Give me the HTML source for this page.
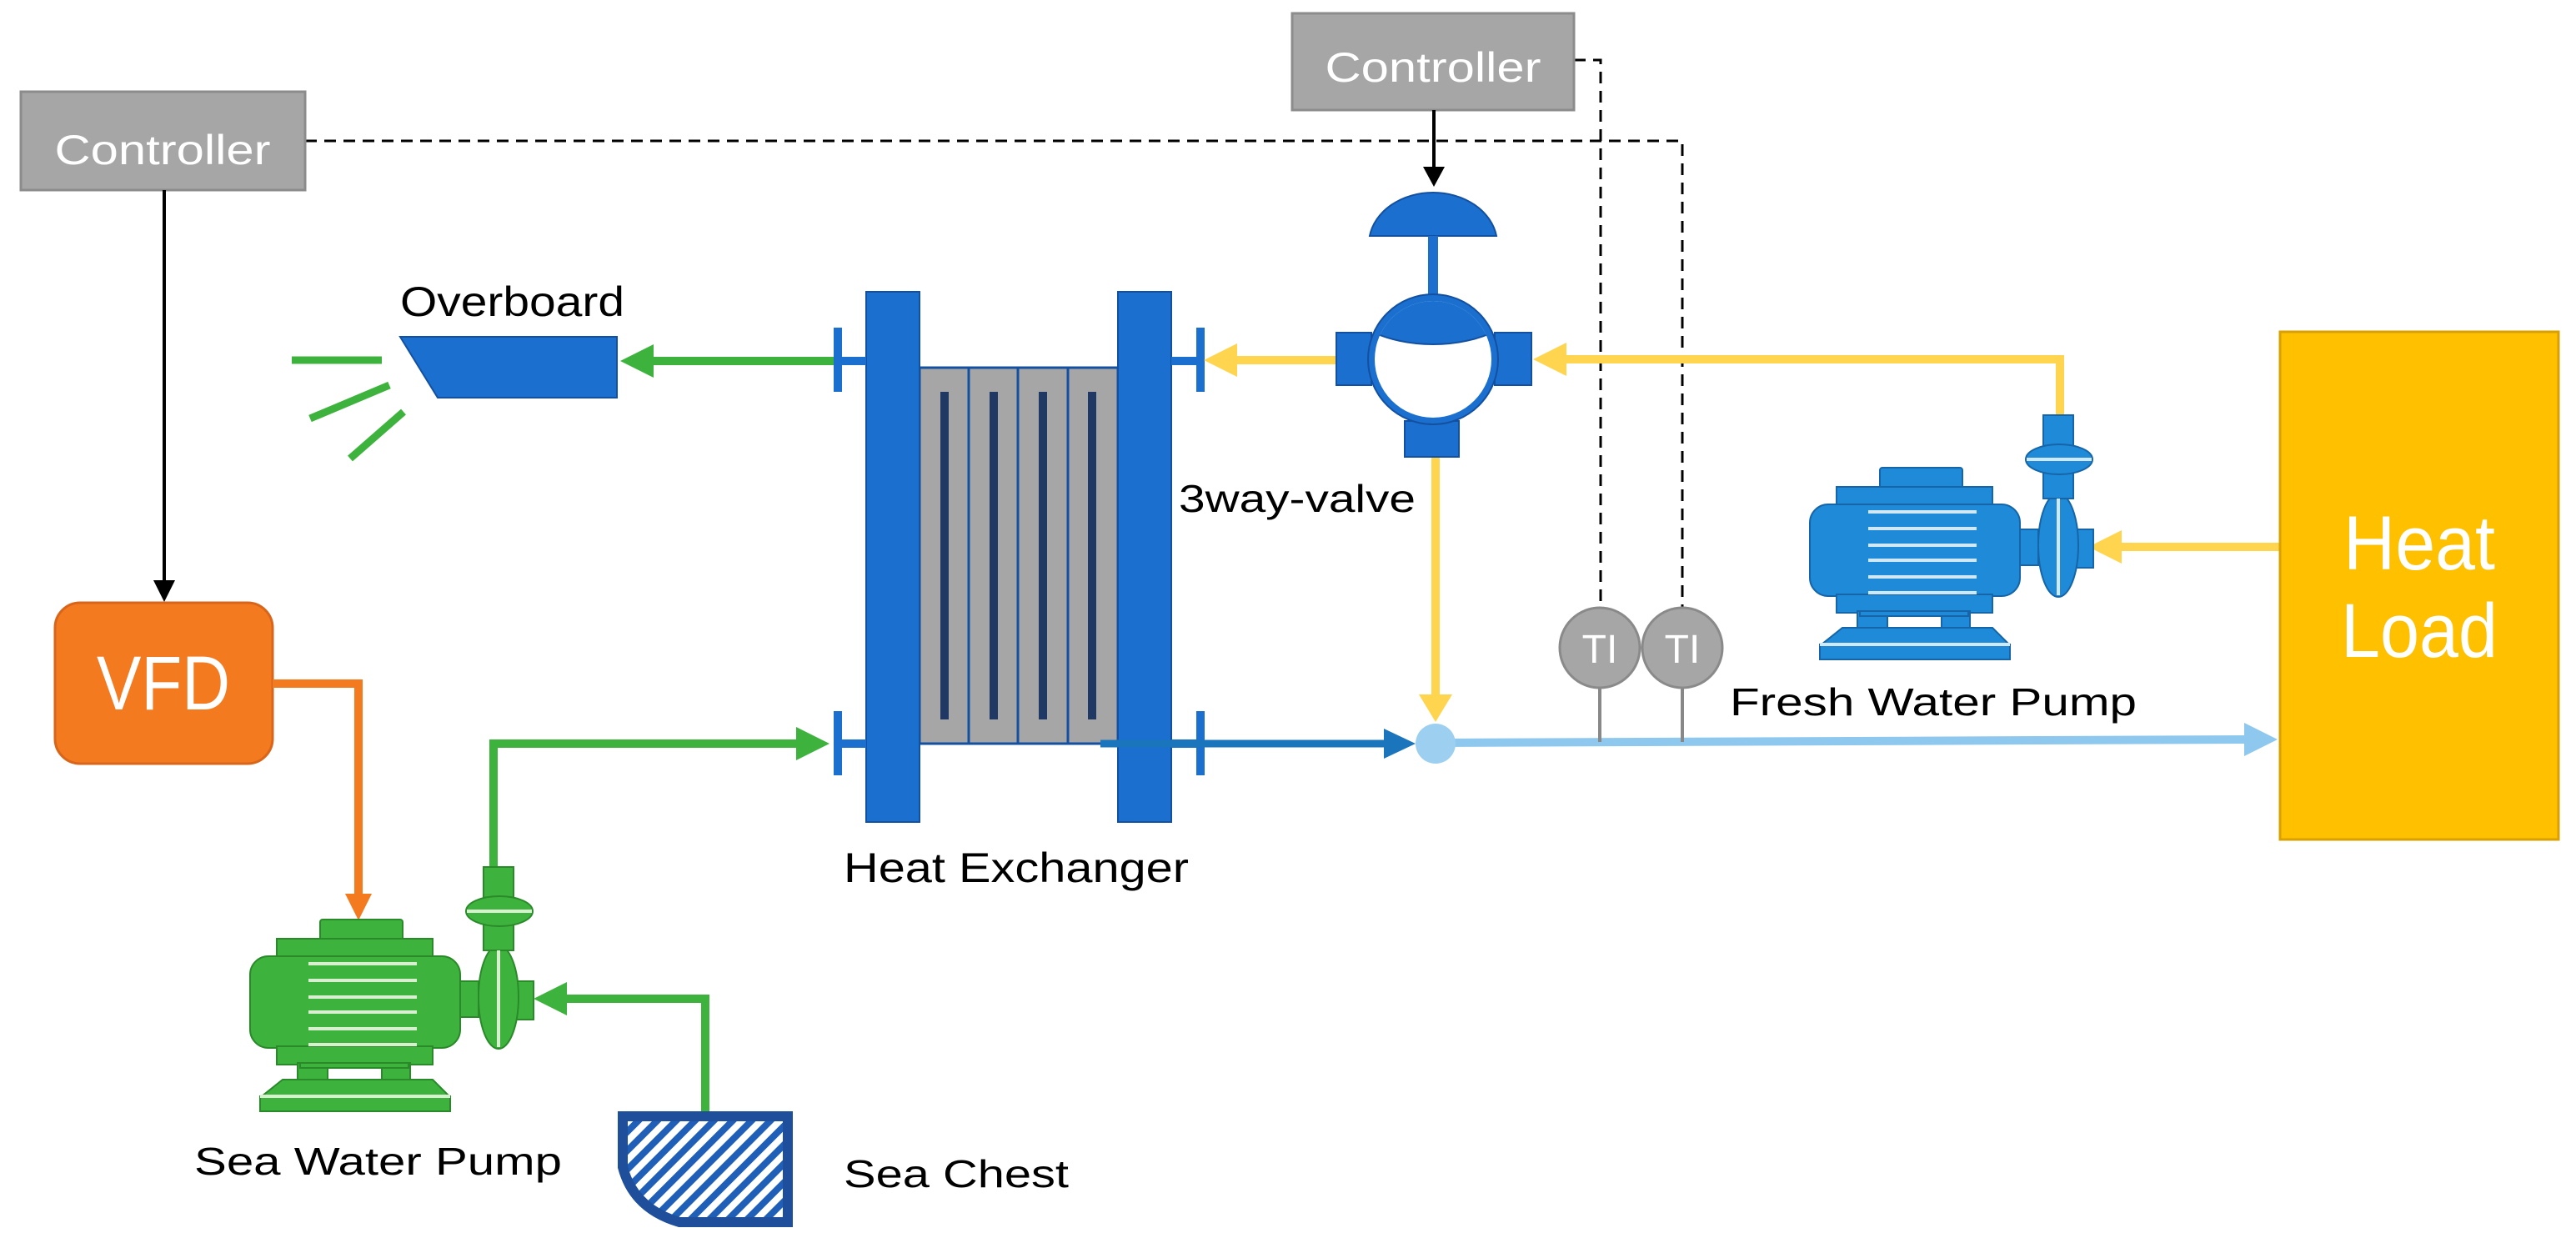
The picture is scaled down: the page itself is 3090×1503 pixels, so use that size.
<!DOCTYPE html>
<html><head><meta charset="utf-8"><style>
html,body{margin:0;padding:0;background:#fff;width:3090px;height:1503px;overflow:hidden}
svg{display:block}
text{font-family:"Liberation Sans",sans-serif}
</style></head><body>
<svg width="3090" height="1503" viewBox="0 0 3090 1503" xmlns="http://www.w3.org/2000/svg">
<defs>
<pattern id="hatch" width="16" height="16" patternUnits="userSpaceOnUse" patternTransform="rotate(45)">
<rect width="16" height="16" fill="#fff"/><rect width="8" height="16" fill="#1f5fb8"/>
</pattern>
<clipPath id="vc"><circle cx="1719" cy="431" r="70"/></clipPath>
<g id="pump">
<rect x="384" y="1103" width="99" height="26" rx="3"/>
<rect x="332" y="1126" width="187" height="24"/>
<rect x="300" y="1147" width="252" height="110" rx="22"/>
<rect x="332" y="1255" width="187" height="22"/>
<rect x="357" y="1275" width="36" height="22"/>
<rect x="458" y="1275" width="34" height="22"/>
<rect x="360" y="1275" width="130" height="6"/>
<polygon points="339,1295 519,1295 539,1315 314,1315"/>
<rect x="312" y="1315" width="228" height="18"/>
<rect x="552" y="1177" width="22" height="43"/>
<rect x="620" y="1177" width="20" height="46"/>
<ellipse cx="598" cy="1196" rx="24" ry="62"/>
<rect x="580" y="1040" width="36" height="100"/>
<ellipse cx="599" cy="1093" rx="40" ry="18"/>
</g>
</defs>

<!-- dashed control lines -->
<g stroke="#000" stroke-width="3" stroke-dasharray="14 9" fill="none">
<path d="M366 169 H2018 V729"/>
<path d="M1888 72 H1920 V729"/>
</g>

<!-- Controllers -->
<rect x="25" y="110" width="341" height="118" fill="#a6a6a6" stroke="#8c8c8c" stroke-width="3"/>
<text x="195" y="197" font-size="50" fill="#fff" text-anchor="middle" textLength="259" lengthAdjust="spacingAndGlyphs">Controller</text>
<rect x="1550" y="16" width="338" height="116" fill="#a6a6a6" stroke="#8c8c8c" stroke-width="3"/>
<text x="1719" y="98" font-size="50" fill="#fff" text-anchor="middle" textLength="259" lengthAdjust="spacingAndGlyphs">Controller</text>

<!-- black arrows -->
<line x1="197" y1="228" x2="197" y2="700" stroke="#000" stroke-width="4"/>
<polygon points="184,696 210,696 197,722" fill="#000"/>
<line x1="1720" y1="132" x2="1720" y2="204" stroke="#000" stroke-width="4"/>
<polygon points="1707,200 1733,200 1720,224" fill="#000"/>

<!-- VFD -->
<rect x="66" y="723" width="261" height="193" rx="30" fill="#f47a20" stroke="#d8651a" stroke-width="3"/>
<text x="196" y="851" font-size="92" fill="#fff" text-anchor="middle" textLength="160" lengthAdjust="spacingAndGlyphs">VFD</text>
<path d="M327 820 H430 V1080" stroke="#f47a20" stroke-width="10" fill="none"/>
<polygon points="414,1072 446,1072 430,1104" fill="#f47a20"/>

<!-- Overboard -->
<text x="480" y="379" font-size="50" fill="#000" textLength="269" lengthAdjust="spacingAndGlyphs">Overboard</text>
<polygon points="480,404 740,404 740,477 525,477" fill="#1a6fcf" stroke="#1450a0" stroke-width="2"/>
<g stroke="#3db33d" stroke-width="9">
<line x1="350" y1="432" x2="458" y2="432"/>
<line x1="372" y1="502" x2="467" y2="462"/>
<line x1="420" y1="550" x2="484" y2="494"/>
</g>
<line x1="770" y1="433" x2="1003" y2="433" stroke="#3db33d" stroke-width="10"/>
<polygon points="744,433 784,413 784,453" fill="#3db33d"/>

<!-- Heat exchanger -->
<rect x="1103" y="441" width="238" height="451" fill="#a6a6a6" stroke="#1450a0" stroke-width="3"/>
<g stroke="#1450a0" stroke-width="3"><line x1="1162" y1="441" x2="1162" y2="892"/><line x1="1221" y1="441" x2="1221" y2="892"/><line x1="1281" y1="441" x2="1281" y2="892"/></g>
<g fill="#1f3864"><rect x="1128" y="470" width="10" height="393"/><rect x="1187" y="470" width="10" height="393"/><rect x="1246" y="470" width="10" height="393"/><rect x="1305" y="470" width="10" height="393"/></g>
<rect x="1039" y="350" width="64" height="636" fill="#1a6fcf" stroke="#1450a0" stroke-width="2"/>
<rect x="1341" y="350" width="64" height="636" fill="#1a6fcf" stroke="#1450a0" stroke-width="2"/>
<g fill="#1a6fcf">
<rect x="1000" y="393" width="10" height="77"/><rect x="1005" y="428" width="34" height="10"/>
<rect x="1000" y="853" width="10" height="77"/><rect x="1005" y="887" width="34" height="10"/>
<rect x="1435" y="393" width="10" height="77"/><rect x="1405" y="428" width="34" height="10"/>
<rect x="1435" y="853" width="10" height="77"/><rect x="1405" y="887" width="34" height="10"/>
</g>
<text x="1012" y="1058" font-size="50" fill="#000" textLength="414" lengthAdjust="spacingAndGlyphs">Heat Exchanger</text>

<!-- green inlet to HX -->
<path d="M592 1040 V892 H970" stroke="#3db33d" stroke-width="10" fill="none"/>
<polygon points="995,892 955,872 955,912" fill="#3db33d"/>

<!-- Sea water pump -->
<use href="#pump" fill="#3db33d" stroke="#2a8a2a" stroke-width="2"/>
<g stroke="#d8f0d0" stroke-width="4"><line x1="370" y1="1156" x2="500" y2="1156"/><line x1="370" y1="1176" x2="500" y2="1176"/><line x1="370" y1="1196" x2="500" y2="1196"/><line x1="370" y1="1214" x2="500" y2="1214"/><line x1="370" y1="1234" x2="500" y2="1234"/><line x1="370" y1="1253" x2="500" y2="1253"/><line x1="598" y1="1140" x2="598" y2="1256"/><line x1="560" y1="1093" x2="638" y2="1093"/><line x1="312" y1="1315" x2="540" y2="1315"/></g>
<path d="M846 1333 V1198 H665" stroke="#3db33d" stroke-width="10" fill="none"/>
<polygon points="640,1198 680,1178 680,1218" fill="#3db33d"/>
<text x="233" y="1409" font-size="46" fill="#000" textLength="441" lengthAdjust="spacingAndGlyphs">Sea Water Pump</text>

<!-- Sea chest -->
<path d="M747 1339 H945 V1466 H815 Q760 1450 747 1400 Z" fill="url(#hatch)" stroke="#1f4e9a" stroke-width="12"/>
<text x="1012" y="1424" font-size="46" fill="#000" textLength="270" lengthAdjust="spacingAndGlyphs">Sea Chest</text>

<!-- yellow lines -->
<line x1="1470" y1="432" x2="1603" y2="432" stroke="#ffd54f" stroke-width="10"/>
<polygon points="1444,432 1484,412 1484,452" fill="#ffd54f"/>
<path d="M2471 503 V431 H1865" stroke="#ffd54f" stroke-width="10" fill="none"/>
<polygon points="1839,431 1879,411 1879,451" fill="#ffd54f"/>
<line x1="1722" y1="548" x2="1722" y2="840" stroke="#ffd54f" stroke-width="10"/>
<polygon points="1702,833 1742,833 1722,866" fill="#ffd54f"/>
<line x1="2530" y1="656" x2="2735" y2="656" stroke="#ffd54f" stroke-width="10"/>
<polygon points="2505,656 2545,636 2545,676" fill="#ffd54f"/>

<!-- 3 way valve -->
<path d="M1643 283 A77 62 0 0 1 1795 283 Z" fill="#1a6fcf" stroke="#1450a0" stroke-width="2"/>
<rect x="1713" y="283" width="12" height="72" fill="#1a6fcf"/>
<rect x="1603" y="399" width="42" height="63" fill="#1a6fcf" stroke="#1450a0" stroke-width="2"/>
<rect x="1793" y="399" width="44" height="63" fill="#1a6fcf" stroke="#1450a0" stroke-width="2"/>
<rect x="1685" y="505" width="65" height="43" fill="#1a6fcf" stroke="#1450a0" stroke-width="2"/>
<circle cx="1719" cy="431" r="78" fill="#1a6fcf" stroke="#1450a0" stroke-width="2"/>
<circle cx="1719" cy="431" r="70" fill="#fff"/>
<g clip-path="url(#vc)" fill="#1a6fcf" stroke="#1450a0" stroke-width="2">
<ellipse cx="1719" cy="353" rx="110" ry="60"/>
<circle cx="1645" cy="525" r="48"/>
<circle cx="1793" cy="525" r="48"/>
</g>
<text x="1414" y="614" font-size="46" fill="#000" textLength="284" lengthAdjust="spacingAndGlyphs">3way-valve</text>

<!-- blue outlet -->
<line x1="1320" y1="892" x2="1670" y2="892" stroke="#1b75bc" stroke-width="9"/>
<polygon points="1698,892 1660,874 1660,910" fill="#1b75bc"/>
<line x1="1722" y1="891" x2="2700" y2="887" stroke="#8ec8ee" stroke-width="10"/>
<polygon points="2732,887 2692,867 2692,907" fill="#8ec8ee"/>
<circle cx="1722" cy="892" r="24" fill="#9ccff0"/>

<!-- TI -->
<g stroke="#888" stroke-width="4"><line x1="1919" y1="820" x2="1919" y2="890"/><line x1="2018" y1="820" x2="2018" y2="890"/></g>
<circle cx="1919" cy="777" r="48" fill="#a6a6a6" stroke="#8a8a8a" stroke-width="3"/>
<circle cx="2018" cy="777" r="48" fill="#a6a6a6" stroke="#8a8a8a" stroke-width="3"/>
<text x="1919" y="795" font-size="48" fill="#fff" text-anchor="middle">TI</text>
<text x="2018" y="795" font-size="48" fill="#fff" text-anchor="middle">TI</text>

<!-- Fresh water pump -->
<g transform="translate(1871,-542)">
<use href="#pump" fill="#1e8ad8" stroke="#1565a8" stroke-width="2"/>
<g stroke="#d0e8f8" stroke-width="4"><line x1="370" y1="1156" x2="500" y2="1156"/><line x1="370" y1="1176" x2="500" y2="1176"/><line x1="370" y1="1196" x2="500" y2="1196"/><line x1="370" y1="1214" x2="500" y2="1214"/><line x1="370" y1="1234" x2="500" y2="1234"/><line x1="370" y1="1253" x2="500" y2="1253"/><line x1="598" y1="1140" x2="598" y2="1256"/><line x1="560" y1="1093" x2="638" y2="1093"/><line x1="312" y1="1315" x2="540" y2="1315"/></g>
</g>
<text x="2075" y="858" font-size="46" fill="#000" textLength="488" lengthAdjust="spacingAndGlyphs">Fresh Water Pump</text>

<!-- Heat load -->
<rect x="2735" y="398" width="334" height="609" fill="#ffc000" stroke="#d9a000" stroke-width="3"/>
<text x="2902" y="683" font-size="92" fill="#fff" text-anchor="middle" textLength="182" lengthAdjust="spacingAndGlyphs">Heat</text>
<text x="2902" y="788" font-size="92" fill="#fff" text-anchor="middle" textLength="188" lengthAdjust="spacingAndGlyphs">Load</text>
</svg>
</body></html>
